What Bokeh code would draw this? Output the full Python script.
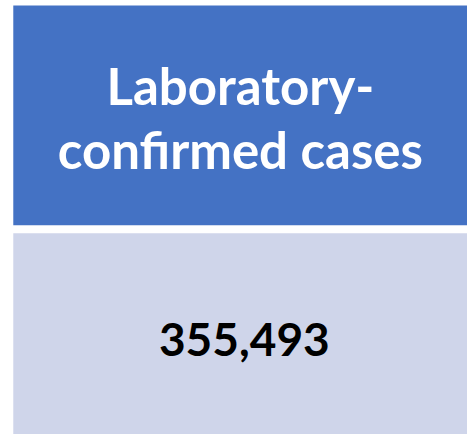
from bokeh.core.properties import value
from bokeh.embed import file_html
from bokeh.models import ColumnDataSource, Range1d
from bokeh.plotting import figure
from bokeh.resources import INLINE

# Table content
header_lines = ["Laboratory-", "confirmed cases"]
case_count = 355493

# data space follows the 475x442 picture, figure fits the window
p = figure(width=467, height=434, output_backend="svg", toolbar_location=None,
           x_range=Range1d(0, 475), y_range=Range1d(0, 442), min_border=0)
p.axis.visible = False
p.grid.grid_line_color = None
p.outline_line_color = None
p.background_fill_color = "white"
p.border_fill_color = "white"

# Header cell and value cell
p.quad(left=13, right=475, top=437, bottom=213, fill_color="#4472C4", line_color=None)
p.quad(left=13, right=475, top=205, bottom=0, fill_color="#CFD5EA", line_color=None)

header_src = ColumnDataSource(dict(x=[244, 244], y=[355, 290], text=header_lines))
p.text(x="x", y="y", text="text", source=header_src, text_align="center",
       text_baseline="alphabetic", text_color="white", text_font=value("Lato"),
       text_font_style="bold", text_font_size="51px")

value_src = ColumnDataSource(dict(x=[248], y=[97], text=[f"{case_count:,}"]))
p.text(x="x", y="y", text="text", source=value_src, text_align="center",
       text_baseline="alphabetic", text_color="black", text_font=value("Lato"),
       text_font_style="bold", text_font_size="46px")

open("out.html", "w").write(file_html(p, INLINE))
